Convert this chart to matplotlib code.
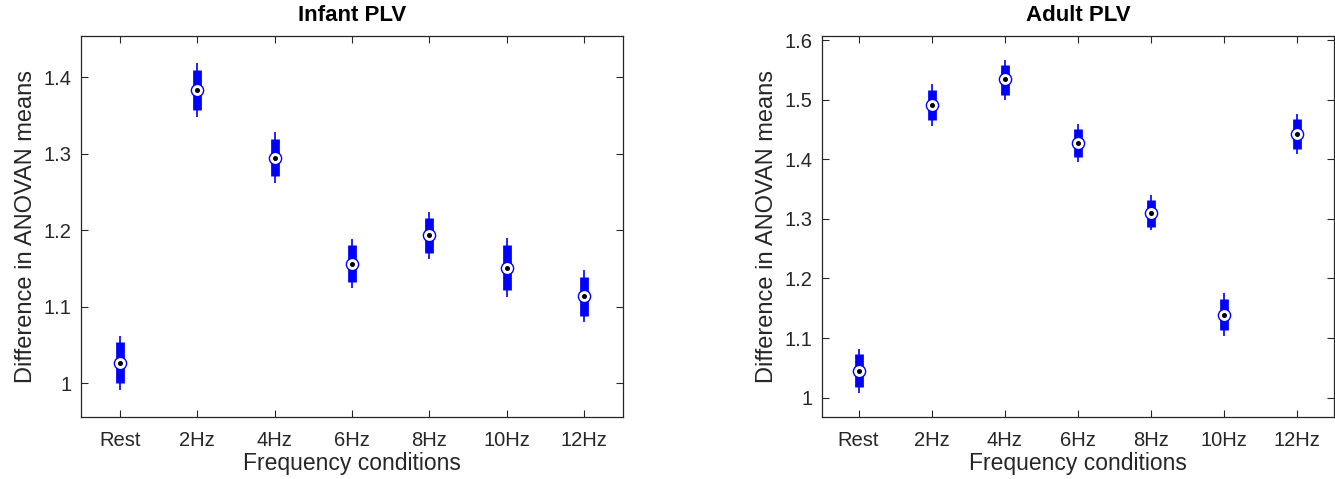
import matplotlib
matplotlib.use('Agg')
import matplotlib.pyplot as plt

plt.rcParams['font.family'] = ['Liberation Sans', 'DejaVu Sans']

conditions = ['Rest', '2Hz', '4Hz', '6Hz', '8Hz', '10Hz', '12Hz']

# Infant PLV: median, box (lo, hi), whisker (lo, hi)
inf_mid = [1.026, 1.383, 1.294, 1.156, 1.194, 1.151, 1.114]
inf_box_lo = [1.000, 1.357, 1.270, 1.132, 1.170, 1.122, 1.088]
inf_box_hi = [1.053, 1.409, 1.319, 1.180, 1.216, 1.180, 1.139]
inf_wh_lo = [0.991, 1.348, 1.261, 1.124, 1.162, 1.112, 1.080]
inf_wh_hi = [1.062, 1.418, 1.328, 1.188, 1.224, 1.189, 1.148]

# Adult PLV
ad_mid = [1.045, 1.491, 1.534, 1.428, 1.310, 1.139, 1.443]
ad_box_lo = [1.018, 1.466, 1.508, 1.404, 1.287, 1.113, 1.418]
ad_box_hi = [1.073, 1.517, 1.558, 1.451, 1.332, 1.166, 1.468]
ad_wh_lo = [1.008, 1.456, 1.500, 1.395, 1.281, 1.103, 1.409]
ad_wh_hi = [1.082, 1.526, 1.567, 1.460, 1.340, 1.176, 1.476]

inf_ticks = [1.0, 1.1, 1.2, 1.3, 1.4]
ad_ticks = [1.0, 1.1, 1.2, 1.3, 1.4, 1.5, 1.6]

W, H = 1335, 479
fig = plt.figure(figsize=(W / 100, H / 100), dpi=100)
ax1 = fig.add_axes([81 / W, 62 / H, 542 / W, 381 / H])
ax2 = fig.add_axes([822 / W, 62 / H, 512 / W, 381 / H])

grey = '#262626'


def draw(ax, mid, blo, bhi, wlo, whi, ticks, ylim, title):
    x = list(range(1, len(conditions) + 1))
    ax.vlines(x, wlo, whi, color='blue', lw=1.2, zorder=2)
    for xi, lo, hi in zip(x, blo, bhi):
        ax.plot([xi, xi], [lo, hi], color='blue', lw=6.3,
                solid_capstyle='butt', zorder=3)
    ax.plot(x, mid, 'o', ms=8.8, mfc='white', mec='blue', mew=1.0,
            ls='none', zorder=4)
    ax.plot(x, mid, 'o', ms=2.6, mfc='black', mec='black', ls='none',
            zorder=5)
    ax.set_xlim(0.5, len(conditions) + 0.5)
    ax.set_ylim(*ylim)
    ax.set_xticks(x)
    ax.set_xticklabels(conditions)
    ax.set_yticks(ticks)
    ax.set_yticklabels(['1' if t == 1.0 else '%.1f' % t for t in ticks])
    ax.tick_params(direction='in', top=True, right=True, length=5,
                   width=0.8, color=grey, labelcolor=grey, labelsize=14.5)
    ax.tick_params(axis='x', pad=10)
    ax.tick_params(axis='y', pad=7)
    for s in ax.spines.values():
        s.set_color(grey)
        s.set_linewidth(0.9)
    ax.set_xlabel('Frequency conditions', fontsize=16.5, color=grey,
                  labelpad=1.5)
    ax.set_ylabel('Difference in ANOVAN means', fontsize=17, color=grey,
                  labelpad=4.5)
    ax.set_title(title, fontsize=16, fontweight='bold', pad=10.5)


draw(ax1, inf_mid, inf_box_lo, inf_box_hi, inf_wh_lo, inf_wh_hi,
     inf_ticks, (0.9556, 1.4536), 'Infant PLV')
draw(ax2, ad_mid, ad_box_lo, ad_box_hi, ad_wh_lo, ad_wh_hi,
     ad_ticks, (0.9675, 1.607), 'Adult PLV')

fig.savefig('out.png', dpi=100)
